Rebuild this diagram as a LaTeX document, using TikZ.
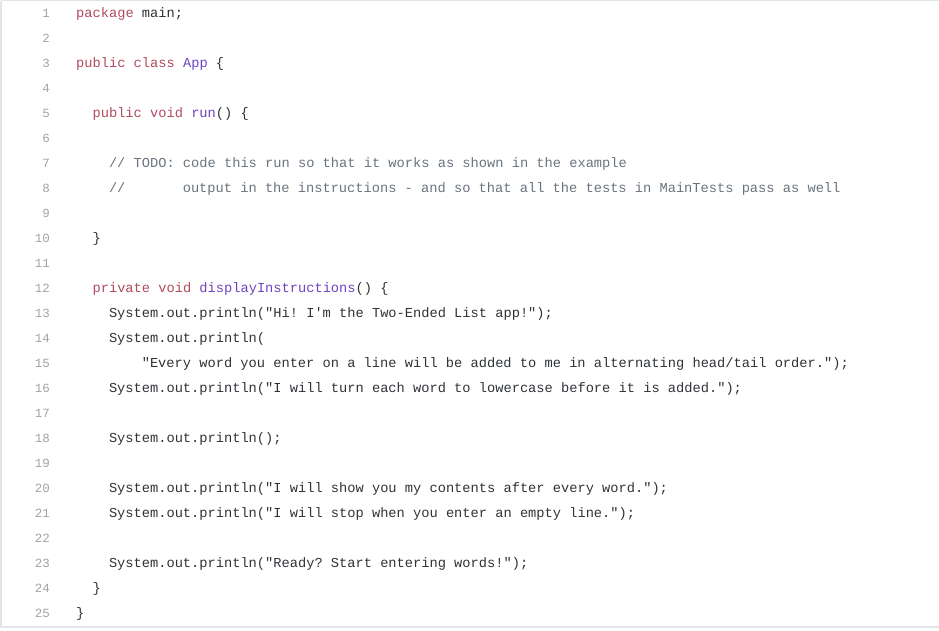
\documentclass[tikz,border=0pt]{standalone}
\usepackage{fontspec}
\setmonofont{Liberation Mono}
\definecolor{kw}{HTML}{B04A5E}
\definecolor{fn}{HTML}{6F42C1}
\definecolor{cm}{HTML}{6A737D}
\definecolor{tx}{HTML}{2F3337}
\definecolor{ln}{HTML}{A0A4A8}
\definecolor{bd}{HTML}{E1E4E8}
\newcommand{\K}[1]{\textcolor{kw}{#1}}
\newcommand{\F}[1]{\textcolor{fn}{#1}}
\newcommand{\codeline}[3]{\node[code] (l#1) at ({76+#2*8.2},{13+25*(#1-1)+4.5}) {#3};}
\begin{document}
\begin{tikzpicture}[x=1pt,y=-1pt,
  code/.style={anchor=base west,inner sep=0pt,font=\ttfamily\fontsize{13.7}{15}\selectfont,text=tx},
  num/.style={anchor=base east,inner sep=0pt,font=\ttfamily\fontsize{12.5}{15}\selectfont,text=ln}]
\useasboundingbox (0,0) rectangle (939,631);
\draw[bd,line width=1.5pt] (1,1) -- (1,627) -- (939,627);
\draw[bd,line width=1pt] (1,1) -- (939,1);
\foreach \i in {1,...,25}{\node[num] (n\i) at (50,{13+25*(\i-1)+4.5}) {\i};}
\codeline{1}{0}{\K{package} main;}
\codeline{3}{0}{\K{public} \K{class} \F{App} \{}
\codeline{5}{2}{\K{public} \K{void} \F{run}() \{}
\codeline{7}{4}{\textcolor{cm}{// TODO: code this run so that it works as shown in the example}}
\codeline{8}{4}{\textcolor{cm}{//}}
\codeline{8}{13}{\textcolor{cm}{output in the instructions - and so that all the tests in MainTests pass as well}}
\codeline{10}{2}{\}}
\codeline{12}{2}{\K{private} \K{void} \F{displayInstructions}() \{}
\codeline{13}{4}{System.out.println("Hi! I'm the Two-Ended List app!");}
\codeline{14}{4}{System.out.println(}
\codeline{15}{8}{"Every word you enter on a line will be added to me in alternating head/tail order.");}
\codeline{16}{4}{System.out.println("I will turn each word to lowercase before it is added.");}
\codeline{18}{4}{System.out.println();}
\codeline{20}{4}{System.out.println("I will show you my contents after every word.");}
\codeline{21}{4}{System.out.println("I will stop when you enter an empty line.");}
\codeline{23}{4}{System.out.println("Ready? Start entering words!");}
\codeline{24}{2}{\}}
\codeline{25}{0}{\}}
\end{tikzpicture}
\end{document}
